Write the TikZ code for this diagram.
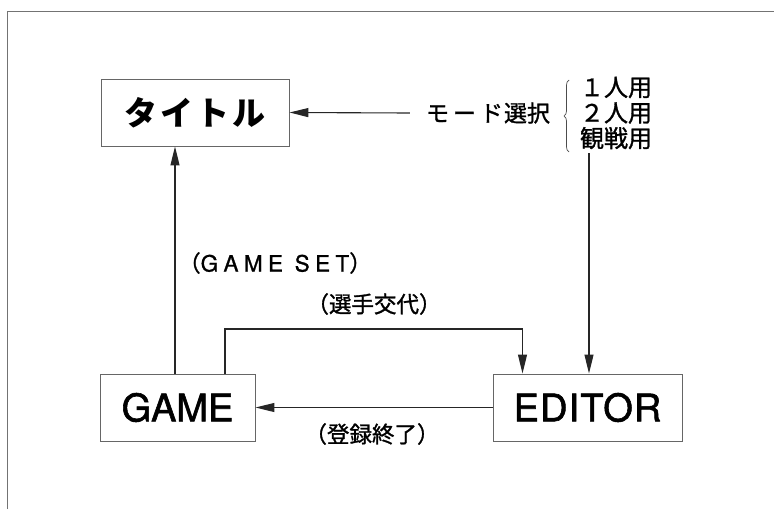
\documentclass[tikz,border=0pt]{standalone}
\usepackage{fontspec}
\setmainfont{TeX Gyre Heros}[FakeBold=1.5]
\newfontfamily\jp{Noto Sans CJK JP}[FakeBold=1.2]
\newfontfamily\jpb{Noto Sans CJK JP}
\newfontfamily\hsp{TeX Gyre Heros}[LetterSpace=24,FakeBold=1]
\newfontfamily\hed{TeX Gyre Heros}[LetterSpace=3,FakeBold=1.5]
\usetikzlibrary{arrows.meta,decorations.pathreplacing}
\tikzset{
  box/.style={draw=black!60, line width=0.9pt, inner sep=0pt},
  arr/.style={draw=black!85, line width=1.1pt, -{Triangle[length=19pt,width=9pt]}},
  lbl/.style={inner sep=0pt, font=\jp\fontsize{22.5pt}{22.5pt}\selectfont},
  framec/.style={draw=black!55, line width=0.9pt}
}
\begin{document}
\begin{tikzpicture}[x=1pt,y=-1pt]
\useasboundingbox (0,0) rectangle (774,509);
\draw[framec] (7,509) -- (7,11) -- (774,11);
% boxes
\node[box, minimum width=188pt, minimum height=67pt,
      font=\jpb\bfseries\fontsize{33pt}{33pt}\selectfont] (title) at (195,112.5)
      {タ\kern3pt イ\kern3pt ト\kern3pt ル};
\node[box, minimum width=155pt, minimum height=67pt,
      font=\fontsize{38pt}{38pt}\selectfont] (game) at (177.5,407.5) {GAME};
\node[box, minimum width=189pt, minimum height=67pt,
      font=\hed\fontsize{38pt}{38pt}\selectfont] (editor) at (587.5,407.5) {EDITOR};
% labels
\node[lbl, inner xsep=16pt, font=\jp\fontsize{23pt}{23pt}\selectfont] (mode) at (488,113)
      {モ\kern4pt ー\kern4pt ド\kern1pt 選択};
\node[lbl, align=center, inner ysep=4pt, font=\jp\fontsize{24pt}{25.5pt}\selectfont]
      (opts) at (616,113) {１人用\\２人用\\観戦用};
\node[lbl] (gsl) at (275,263) {（{\hsp GAME SET}）};
\node[lbl] (chg) at (374,304) {（選手交代）};
\node[lbl] (end) at (372,434) {（登録終了）};
% brace
\draw[draw=black!70, line width=0.7pt, decorate, decoration={brace, amplitude=5pt}]
      (569,152) -- (569,80);
% connectors
\coordinate (gs) at (175,0);
\coordinate (ca) at (225,329);
\coordinate (cb) at (522.5,329);
\coordinate (md) at (589,0);
\draw[arr] (mode.west) -- (title.east);
\draw[arr] (game.north -| gs) -- (title.south -| gs);
\draw[arr] (game.north -| ca) -- (ca) -- (cb) -- (editor.north -| cb);
\draw[arr] (opts.south -| md) -- (editor.north -| md);
\draw[arr] (editor.west) -- (game.east);
\end{tikzpicture}
\end{document}
